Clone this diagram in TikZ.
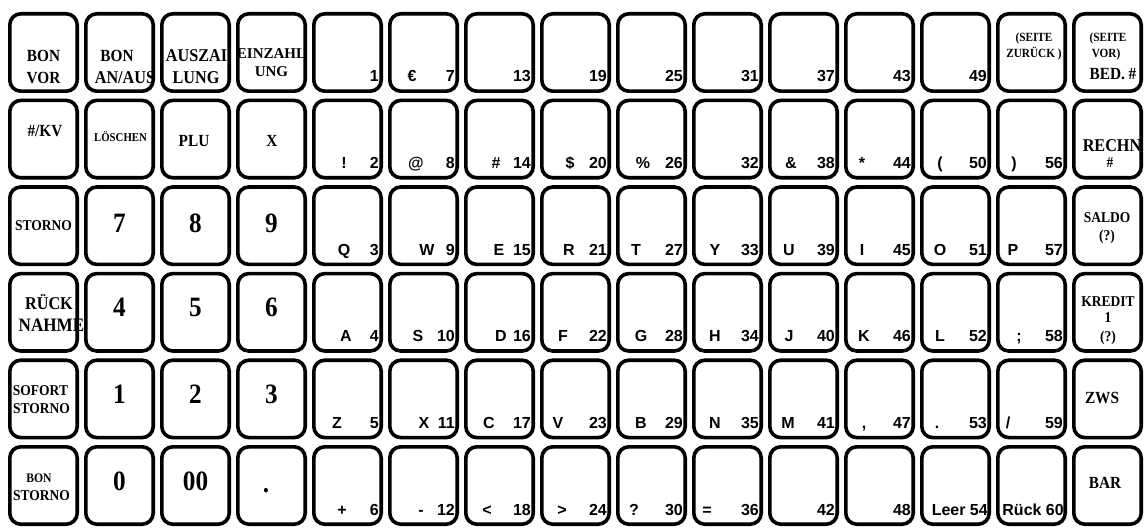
\documentclass[tikz,border=0pt]{standalone}
\usepackage{fontspec}
\newfontfamily\serifk[FakeStretch=0.9]{Liberation Serif}
\newfontfamily\serifw{Liberation Serif}
\newfontfamily\sansk{Liberation Sans}
\newcommand\kfs[1]{\fontsize{#1}{#1}\selectfont}
\begin{document}
\begin{tikzpicture}[x=1pt,y=-1pt,
  key/.style={draw=black, line width=3.6pt, rounded corners=11pt,
    minimum width=67.4pt, minimum height=77.4pt, inner sep=0pt, fill=white},
  fk/.style={font=\serifk\bfseries\kfs{#1}, anchor=base, inner sep=0pt},
  fw/.style={font=\serifw\bfseries\kfs{#1}, anchor=base, inner sep=0pt},
  num/.style={font=\sansk\bfseries\kfs{16}, anchor=base east, inner sep=0pt},
  let/.style={font=\sansk\bfseries\kfs{16}, anchor=base, inner sep=0pt}]
\fill[white] (0,0) rectangle (1148,529);
\useasboundingbox (0,0) rectangle (1148,529);
% keys
\foreach \c in {0,...,14}
  \foreach \r in {0,...,5}
    \node[key] (k\r-\c) at ({43.5+76*\c},{52.5+86.6*\r}) {};
% numbers
\foreach \c in {4,...,13}
  \foreach \r in {0,...,5}{
    \pgfmathtruncatemacro\n{6*(\c-4)+\r+1}
    \ifnum\n=55 \else\ifnum\n=54 \else\ifnum\n=60 \else
      \node[num] (n\r-\c) at ([xshift=67pt,yshift=-70pt]k\r-\c.north west) {\n};
    \fi\fi\fi
  }
\node[num] (n5-12) at ([xshift=68pt,yshift=-70pt]k5-12.north west) {Leer 54};
\node[num] (n5-13) at ([xshift=68pt,yshift=-70pt]k5-13.north west) {Rück 60};
% letters and symbols
\foreach \r/\c/\d/\t in {0/5/24/{€},
  1/4/32/{!}, 1/5/28/{@}, 1/6/32/{\#}, 1/7/30/{\$}, 1/8/27/{\%}, 1/10/23/{\&}, 1/11/18/{*}, 1/12/20/{(}, 1/13/18/{)},
  2/4/32/{Q}, 2/5/39/{W}, 2/6/35/{E}, 2/7/29/{R}, 2/8/20/{T}, 2/9/23/{Y}, 2/10/21/{U}, 2/11/18/{I}, 2/12/20/{O}, 2/13/17/{P},
  3/4/34/{A}, 3/5/30/{S}, 3/6/37/{D}, 3/7/23/{F}, 3/8/25/{G}, 3/9/23/{H}, 3/10/21/{J}, 3/11/20/{K}, 3/12/20/{L}, 3/13/23/{;},
  4/4/25/{Z}, 4/5/36/{X}, 4/6/25/{C}, 4/7/18/{V}, 4/8/25/{B}, 4/9/23/{N}, 4/10/20/{M}, 4/11/20/{,}, 4/12/17/{.}, 4/13/12/{/},
  5/4/30/{+}, 5/5/33/{-}, 5/6/23/{<}, 5/7/22/{>}, 5/8/18/{?}, 5/9/15/{=}}
  \node[let] (l\r-\c) at ([xshift=\d pt,yshift=-70pt]k\r-\c.north west) {\t};
% function keys
\foreach \r/\c/\dx/\dy/\s/\t/\nm in {
  0/0/35.5/50/17/{BON}/a, 0/0/35.5/72/17/{VOR}/b,
  0/1/33/50/17/{BON}/a, 0/1/41/72/18/{AN/AUS}/b,
  0/2/36.5/50/18/{AUSZAI}/a, 0/2/36/72/18/{LUNG}/b,
  1/0/37/38/17/{\#/KV}/a, 1/1/36.5/43/12/{LÖSCHEN}/a,
  1/2/34/48/17/{PLU}/a, 1/3/36/48/17/{X}/a,
  2/0/35.5/45/15/{STORNO}/a,
  2/1/35.5/47/28/{7}/a, 2/2/35.5/47/28/{8}/a, 2/3/35.5/47/28/{9}/a,
  3/0/41/38/18/{RÜCK}/a, 3/0/43.5/60/19/{NAHME}/b,
  3/1/35.5/45/28/{4}/a, 3/2/35.5/45/28/{5}/a, 3/3/35.5/45/28/{6}/a,
  4/0/32.5/37/15/{SOFORT}/a, 4/0/33.5/55/15/{STORNO}/b,
  4/1/35.5/45/28/{1}/a, 4/2/35.5/45/28/{2}/a, 4/3/35.5/45/28/{3}/a,
  5/0/31/37/13/{BON}/a, 5/0/33.5/55/15/{STORNO}/b,
  5/1/35.5/45/28/{0}/a, 5/2/35.5/45/28/{00}/a, 5/3/30/47/28/{.}/a,
  0/13/38/30/12.5/{(SEITE}/a, 0/13/38/46/12.5/{ZURÜCK )}/b,
  0/14/36/30/12.5/{(SEITE}/a, 0/14/34/46/12.5/{VOR)}/b, 0/14/41/68/17/{BED. \#}/c,
  1/14/40/53/18/{RECHN}/a, 1/14/38/69/15/{\#}/b,
  2/14/35/37/15/{SALDO}/a, 2/14/35/55/15/{(?)}/b,
  3/14/36/35/15/{KREDIT}/a, 3/14/36/51/15/{1}/b, 3/14/36/70/15/{(?)}/c,
  4/14/30/45/17/{ZWS}/a, 5/14/33/43/17/{BAR}/a}
  \node[fk=\s] (f\r-\c\nm) at ([xshift=\dx pt,yshift=-\dy pt]k\r-\c.north west) {\t};
\node[fw=15] (f0-3a) at ([xshift=35.5pt,yshift=-47pt]k0-3.north west) {EINZAHL};
\node[fw=15] (f0-3b) at ([xshift=35.5pt,yshift=-65pt]k0-3.north west) {UNG};
\end{tikzpicture}
\end{document}
